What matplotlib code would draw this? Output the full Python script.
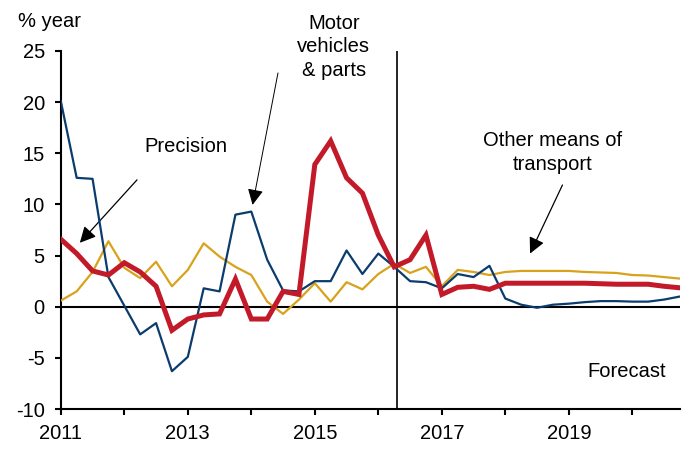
import numpy as np
import matplotlib
matplotlib.use("Agg")
import matplotlib.pyplot as plt

plt.rcParams['font.family'] = ['Liberation Sans', 'DejaVu Sans']
plt.rcParams['axes.unicode_minus'] = False

start_year = 2011.0
precision = [6.6, 5.2, 3.5, 3.1, 4.3, 3.4, 2.0, -2.3, -1.2, -0.8, -0.7, 2.7, -1.2,
             -1.2, 1.5, 1.2, 13.9, 16.2, 12.6, 11.1, 7.0, 3.9, 4.6, 7.0,
             1.2, 1.9, 2.0, 1.7, 2.3, 2.3, 2.3, 2.3, 2.3, 2.3, 2.25, 2.2, 2.2, 2.2, 2.0, 1.85]
motor = [20.1, 12.6, 12.5, 2.9, 0.1, -2.7, -1.6, -6.3, -4.9, 1.8, 1.5, 9.0, 9.3,
         4.6, 1.6, 1.5, 2.5, 2.5, 5.5, 3.2, 5.2, 3.9, 2.5, 2.4,
         1.8, 3.2, 2.9, 4.0, 0.8, 0.2, -0.1, 0.2, 0.3, 0.45, 0.55, 0.55, 0.5, 0.5, 0.7, 1.0]
other = [0.6, 1.5, 3.4, 6.4, 3.8, 2.8, 4.4, 2.0, 3.6, 6.2, 4.9, 3.9, 3.1,
         0.5, -0.7, 0.7, 2.3, 0.5, 2.4, 1.7, 3.2, 4.2, 3.3, 3.9,
         2.0, 3.6, 3.4, 3.1, 3.4, 3.5, 3.5, 3.5, 3.5, 3.4, 3.35, 3.3, 3.1, 3.05, 2.9, 2.75]
forecast_start = 2016.3
xticks = [2011, 2013, 2015, 2017, 2019]

x = start_year + np.arange(len(precision)) * 0.25

fig = plt.figure(figsize=(6.91, 4.51), dpi=100)
ax = fig.add_axes([0.088, 0.093, 0.896, 0.794])

ax.plot(x, other, color='#D9A21B', lw=1.6, zorder=3)
ax.plot(x, motor, color='#0B3C6E', lw=1.6, zorder=4)
ax.plot(x, precision, color='#C31A2A', lw=3.6, zorder=5, solid_joinstyle='miter')

ax.axhline(0, color='black', lw=1.5, zorder=2)
ax.axvline(forecast_start, color='black', lw=1.2, zorder=2)

ax.set_xlim(2011, 2020.75)
ax.set_ylim(-10, 25)
ax.set_yticks(np.arange(-10, 26, 5))
ax.set_xticks(np.arange(2011, 2021, 1), minor=True)
ax.set_xticks(xticks)
ax.set_xticklabels([str(t) for t in xticks])
ax.tick_params(axis='both', which='both', direction='out', length=4.5, width=1.5,
               labelsize=14.5, color='black')
ax.tick_params(axis='x', which='both', pad=6)
ax.tick_params(axis='y', which='both', pad=7)
for s in ['top', 'right']:
    ax.spines[s].set_visible(False)
for s in ['left', 'bottom']:
    ax.spines[s].set_linewidth(1.5)

fs = 14.5
arrow = dict(arrowstyle='-|>', lw=0.9, color='black', mutation_scale=24, shrinkA=0, shrinkB=0)
ax.text(2012.97, 15.7, 'Precision', ha='center', va='center', fontsize=fs)
ax.annotate('', xy=(2011.30, 6.25), xytext=(2012.20, 12.4), arrowprops=arrow)

ax.text(2015.30, 25.4, 'Motor\nvehicles\n& parts', ha='center', va='center', fontsize=fs,
        linespacing=1.32, clip_on=False)
ax.annotate('', xy=(2014.02, 9.96), xytext=(2014.42, 22.85), arrowprops=dict(arrow, lw=0.7),
            annotation_clip=False)

ax.text(2018.75, 15.1, 'Other means of\ntransport', ha='center', va='center', fontsize=fs,
        linespacing=1.3)
ax.annotate('', xy=(2018.39, 5.2), xytext=(2018.9, 11.9), arrowprops=arrow)

ax.text(2019.91, -6.35, 'Forecast', ha='center', va='center', fontsize=fs)

fig.text(0.026, 0.953, '% year', ha='left', va='center', fontsize=fs)

fig.savefig('out.png', dpi=100)
